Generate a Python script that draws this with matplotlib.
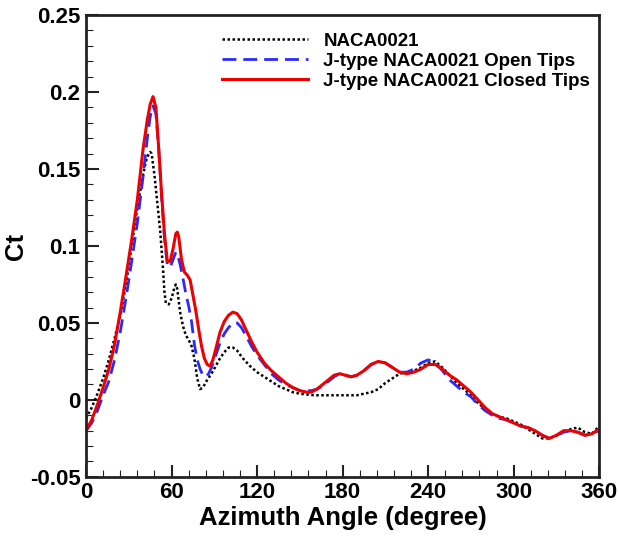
import matplotlib
matplotlib.use("Agg")
import matplotlib.pyplot as plt
from matplotlib.ticker import MultipleLocator

plt.rcParams['font.family'] = ['Liberation Sans', 'DejaVu Sans']
plt.rcParams['font.weight'] = 'bold'

x_closed = [0, 4, 8, 12, 16, 20, 24, 28, 32, 36, 40, 43, 45, 47, 49, 51, 53, 55, 57, 59, 61, 63, 64, 65, 67, 69, 71, 73, 75, 77, 79, 81, 83, 85, 87, 89, 91, 94, 97, 100, 103, 106, 109, 112, 116, 120, 125, 130, 135, 140, 145, 150, 155, 158, 162, 166, 170, 174, 178, 182, 186, 190, 195, 200, 205, 210, 215, 220, 225, 230, 235, 240, 245, 250, 255, 260, 265, 270, 275, 280, 285, 290, 295, 300, 305, 310, 315, 320, 325, 330, 335, 340, 345, 350, 355, 360]
ct_closed = [-0.020, -0.013, -0.003, 0.008, 0.020, 0.036, 0.057, 0.080, 0.104, 0.130, 0.163, 0.182, 0.192, 0.197, 0.190, 0.163, 0.134, 0.108, 0.090, 0.090, 0.098, 0.108, 0.109, 0.106, 0.091, 0.083, 0.081, 0.078, 0.068, 0.058, 0.046, 0.035, 0.027, 0.023, 0.022, 0.026, 0.033, 0.044, 0.051, 0.055, 0.057, 0.056, 0.052, 0.046, 0.038, 0.031, 0.024, 0.019, 0.015, 0.011, 0.008, 0.006, 0.005, 0.005, 0.007, 0.010, 0.013, 0.016, 0.017, 0.016, 0.015, 0.016, 0.019, 0.023, 0.025, 0.024, 0.021, 0.018, 0.017, 0.018, 0.020, 0.023, 0.023, 0.020, 0.016, 0.013, 0.009, 0.005, 0.000, -0.005, -0.009, -0.011, -0.013, -0.015, -0.017, -0.018, -0.020, -0.023, -0.025, -0.023, -0.020, -0.020, -0.021, -0.023, -0.022, -0.019]

x_open = [0, 4, 8, 12, 16, 20, 24, 28, 32, 36, 40, 43, 45, 47, 49, 51, 53, 55, 57, 59, 61, 63, 64, 66, 68, 70, 72, 74, 76, 78, 80, 82, 84, 86, 88, 91, 94, 97, 100, 103, 106, 109, 112, 116, 120, 125, 130, 135, 140, 145, 150, 155, 158, 162, 166, 170, 174, 178, 182, 186, 190, 195, 200, 205, 210, 215, 220, 225, 230, 235, 240, 245, 250, 255, 260, 265, 270, 275, 280, 285, 290, 295, 300, 305, 310, 315, 320, 325, 330, 335, 340, 345, 350, 355, 360]
ct_open = [-0.020, -0.015, -0.007, 0.003, 0.012, 0.026, 0.044, 0.066, 0.090, 0.115, 0.145, 0.170, 0.184, 0.191, 0.186, 0.163, 0.132, 0.105, 0.088, 0.086, 0.091, 0.096, 0.095, 0.088, 0.079, 0.069, 0.061, 0.051, 0.036, 0.026, 0.020, 0.016, 0.015, 0.017, 0.021, 0.029, 0.037, 0.043, 0.047, 0.050, 0.050, 0.047, 0.042, 0.035, 0.029, 0.023, 0.017, 0.013, 0.010, 0.008, 0.006, 0.006, 0.006, 0.007, 0.009, 0.012, 0.015, 0.017, 0.016, 0.015, 0.016, 0.019, 0.023, 0.025, 0.024, 0.021, 0.018, 0.018, 0.020, 0.024, 0.026, 0.024, 0.019, 0.013, 0.009, 0.005, 0.002, -0.003, -0.007, -0.010, -0.012, -0.013, -0.015, -0.017, -0.018, -0.020, -0.023, -0.025, -0.023, -0.021, -0.020, -0.021, -0.023, -0.022, -0.020]

x_base = [0, 4, 8, 12, 16, 20, 24, 28, 32, 36, 40, 42, 44, 45, 46, 48, 50, 52, 54, 55, 56, 58, 60, 62, 63, 64, 66, 68, 70, 72, 74, 76, 78, 80, 82, 85, 88, 91, 94, 97, 100, 103, 106, 110, 115, 120, 125, 130, 135, 140, 145, 150, 160, 170, 180, 190, 195, 200, 205, 210, 215, 220, 225, 230, 235, 240, 245, 250, 255, 260, 265, 270, 275, 280, 285, 290, 295, 300, 305, 310, 315, 320, 325, 330, 335, 340, 345, 350, 355, 360]
ct_base = [-0.012, -0.005, 0.004, 0.014, 0.026, 0.040, 0.055, 0.075, 0.100, 0.125, 0.146, 0.155, 0.160, 0.161, 0.160, 0.146, 0.128, 0.110, 0.085, 0.070, 0.063, 0.062, 0.066, 0.073, 0.075, 0.072, 0.057, 0.048, 0.042, 0.039, 0.035, 0.027, 0.014, 0.007, 0.008, 0.013, 0.017, 0.022, 0.027, 0.031, 0.034, 0.034, 0.032, 0.027, 0.022, 0.018, 0.015, 0.012, 0.009, 0.007, 0.005, 0.004, 0.003, 0.003, 0.003, 0.003, 0.004, 0.005, 0.007, 0.011, 0.014, 0.017, 0.018, 0.019, 0.021, 0.024, 0.025, 0.021, 0.016, 0.011, 0.007, 0.003, -0.002, -0.006, -0.009, -0.011, -0.012, -0.014, -0.016, -0.019, -0.022, -0.025, -0.025, -0.023, -0.021, -0.019, -0.018, -0.021, -0.022, -0.017]

labels = ['NACA0021', 'J-type NACA0021 Open Tips', 'J-type NACA0021 Closed Tips']
x_ticks = [0, 60, 120, 180, 240, 300, 360]
y_ticks = [-0.05, 0, 0.05, 0.1, 0.15, 0.2, 0.25]
y_tick_labels = ['-0.05', '0', '0.05', '0.1', '0.15', '0.2', '0.25']

fig = plt.figure(figsize=(6.19, 5.37), dpi=100)
ax = fig.add_axes([0.139, 0.112, 0.829, 0.860])

ax.plot(x_base, ct_base, color='black', linestyle=(0, (1, 1)), lw=1.8, label=labels[0])
ax.plot(x_open, ct_open, color='#2a2aff', linestyle=(0, (5, 2.5)), lw=2.0, label=labels[1])
ax.plot(x_closed, ct_closed, color='#ee0000', linestyle='-', lw=2.2, label=labels[2])

ax.set_xlim(0, 360)
ax.set_ylim(-0.05, 0.25)
ax.set_xticks(x_ticks)
ax.set_yticks(y_ticks)
ax.set_yticklabels(y_tick_labels)
ax.xaxis.set_minor_locator(MultipleLocator(12))
ax.yaxis.set_minor_locator(MultipleLocator(0.01))
ax.tick_params(which='both', direction='in', top=False, right=False, labelsize=16, width=1.5, color='#222222')
ax.tick_params(which='major', length=9, pad=4)
ax.tick_params(which='minor', length=5, width=0.8)
for lab in ax.get_xticklabels() + ax.get_yticklabels():
    lab.set_fontweight('bold')
for s in ax.spines.values():
    s.set_linewidth(2)
    s.set_color('#222222')

ax.set_xlabel('Azimuth Angle (degree)', fontsize=18.5, fontweight='bold', labelpad=2)
ax.set_ylabel('Ct', fontsize=18.5, fontweight='bold', labelpad=1)

leg = ax.legend(loc='upper left', bbox_to_anchor=(0.265, 0.962), frameon=False,
                handlelength=4.6, handletextpad=0.8, labelspacing=0.15,
                borderpad=0, borderaxespad=0,
                prop={'weight': 'bold', 'size': 13.5})

fig.savefig('out.png', dpi=100)
